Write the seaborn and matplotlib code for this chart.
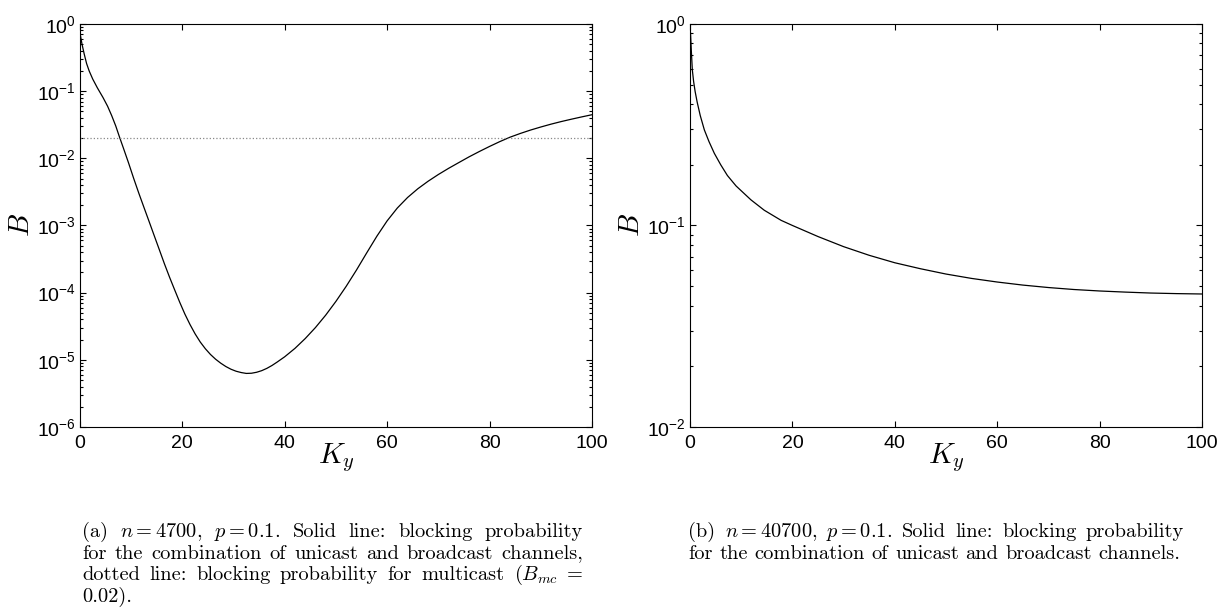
import numpy as np
import pandas as pd
import seaborn as sns
import matplotlib.pyplot as plt
from matplotlib.ticker import LogLocator, NullFormatter

# (a) n = 4700, p = 0.1 -- blocking probability vs K_y
ky_a = [0, 0.4, 0.84, 1.3, 1.8, 2.5, 3.4, 4.5, 5.4, 6.2, 7, 7.7, 8.5, 9.5,
        10.5, 11.5, 12.5, 13.5, 14.5, 15.5, 16.5, 17.5, 18.5, 19.5, 20.5, 21.5,
        22.5, 23.5, 24.5, 25.5, 26.5, 27.5, 28.5, 29.5, 30.5, 31.5, 32.5, 33.5,
        34.5, 35.5, 36.5, 37.5, 38.5, 40, 42, 44, 46, 48, 50, 52, 54, 56, 58,
        60, 62, 64, 66, 68, 70, 72, 74, 76, 78, 80, 82, 84, 86, 88, 90, 92, 94,
        96, 98, 100]
b_a = [0.741, 0.501, 0.355, 0.257, 0.200, 0.151, 0.112, 0.0804, 0.0596, 0.0432,
       0.0302, 0.0210, 0.0141, 0.00851, 0.00501, 0.00302, 0.00186, 0.00115,
       7.08e-4, 4.37e-4, 2.69e-4, 1.70e-4, 1.10e-4, 7.16e-5, 4.79e-5, 3.35e-5,
       2.43e-5, 1.84e-5, 1.46e-5, 1.20e-5, 1.02e-5, 8.91e-6, 7.94e-6, 7.24e-6,
       6.76e-6, 6.46e-6, 6.27e-6, 6.31e-6, 6.52e-6, 6.89e-6, 7.45e-6, 8.22e-6,
       9.23e-6, 1.11e-5, 1.48e-5, 2.07e-5, 3.02e-5, 4.62e-5, 7.41e-5, 1.24e-4,
       2.16e-4, 3.89e-4, 6.92e-4, 1.17e-3, 1.82e-3, 2.61e-3, 3.52e-3, 4.55e-3,
       5.73e-3, 7.08e-3, 8.63e-3, 1.05e-2, 1.26e-2, 1.50e-2, 1.77e-2, 2.06e-2,
       2.34e-2, 2.63e-2, 2.92e-2, 3.22e-2, 3.52e-2, 3.82e-2, 4.13e-2, 4.45e-2]
b_mc = 0.02

# (b) n = 40700, p = 0.1
ky_b = [0, 0.1, 0.25, 0.45, 0.7, 1.0, 1.4, 2.0, 2.8, 3.7, 4.75, 6, 7.3, 9, 11.9,
        14.5, 17.8, 20, 25, 30, 35, 40, 45, 50, 55, 60, 65, 70, 75, 80, 85, 90, 95, 100]
b_b = [0.95, 0.90, 0.741, 0.592, 0.519, 0.462, 0.409, 0.351, 0.298, 0.261, 0.228,
       0.200, 0.177, 0.157, 0.134, 0.119, 0.106, 0.100, 0.0881, 0.0785, 0.0711,
       0.0653, 0.0610, 0.0574, 0.0546, 0.0524, 0.0506, 0.0492, 0.0481, 0.0473,
       0.0467, 0.0462, 0.0459, 0.0457]

df_a = pd.DataFrame({'Ky': ky_a, 'B': b_a})
df_b = pd.DataFrame({'Ky': ky_b, 'B': b_b})

# caption words per line (math kept in one word)
caption_a = [["(a)", "$n = 4700$,", "$p = 0.1$.", "Solid", "line:", "blocking", "probability"],
             ["for", "the", "combination", "of", "unicast", "and", "broadcast", "channels,"],
             ["dotted", "line:", "blocking", "probability", "for", "multicast", "($B_{mc}$", "="],
             ["0.02)."]]
caption_b = [["(b)", "$n = 40700$,", "$p = 0.1$.", "Solid", "line:", "blocking", "probability"],
             ["for", "the", "combination", "of", "unicast", "and", "broadcast", "channels."]]

sns.set_style('ticks')
plt.rcParams['font.family'] = ['Liberation Sans', 'DejaVu Sans']
plt.rcParams['mathtext.fontset'] = 'cm'
plt.rcParams['axes.linewidth'] = 0.8
for k in ['text.color', 'axes.labelcolor', 'xtick.color', 'ytick.color', 'axes.edgecolor']:
    plt.rcParams[k] = 'black'

W, H = 1228, 614
fig = plt.figure(figsize=(12.28, 6.14), dpi=100)
ax1 = fig.add_axes([0.0651, 0.3046, 0.4169, 0.6564])
ax2 = fig.add_axes([0.5619, 0.3046, 0.4169, 0.6564])

sns.lineplot(data=df_a, x='Ky', y='B', ax=ax1, color='black', linewidth=0.9)
ax1.axhline(b_mc, color='#888888', linestyle=':', linewidth=0.9)
sns.lineplot(data=df_b, x='Ky', y='B', ax=ax2, color='black', linewidth=0.9)

for ax, lo in [(ax1, 1e-6), (ax2, 1e-2)]:
    ax.set_yscale('log')
    ax.set_xlim(0, 100)
    ax.set_ylim(lo, 1)
    ax.set_xticks([0, 20, 40, 60, 80, 100])
    ax.yaxis.set_major_locator(LogLocator(base=10, numticks=20))
    ax.yaxis.set_minor_locator(LogLocator(base=10, subs=np.arange(2, 10), numticks=20))
    ax.yaxis.set_minor_formatter(NullFormatter())
    ax.tick_params(which='both', direction='in', top=True, right=True,
                   labelsize=14, width=0.8)
    ax.tick_params(which='major', length=4.5, pad=3)
    ax.tick_params(axis='x', pad=6)
    ax.tick_params(which='minor', length=2.2)
    ax.set_ylabel('$B$', fontsize=21)
    ax.set_xlabel('$K_y$', fontsize=21)
    ax.yaxis.set_label_coords(-0.088, 0.5)
    ax.xaxis.set_label_coords(0.5, -0.035)

renderer = fig.canvas.get_renderer()


def put_caption(lines, x0, x1, y0, step=21.7, size=14.7):
    for i, words in enumerate(lines):
        y = 1 - (y0 + step * i) / H
        texts = [fig.text(0, y, w, fontfamily='cmr10', fontsize=size, va='baseline')
                 for w in words]
        widths = [t.get_window_extent(renderer).width for t in texts]
        last = i == len(lines) - 1
        if last or len(words) == 1:
            gap = size * 0.333 * 100 / 72
        else:
            gap = (x1 - x0 - sum(widths)) / (len(words) - 1)
        x = x0
        for t, w in zip(texts, widths):
            t.set_x(x / W)
            x += w + gap


put_caption(caption_a, 82, 583, 537)
put_caption(caption_b, 688, 1184, 537)

fig.savefig('out.png', dpi=100)
